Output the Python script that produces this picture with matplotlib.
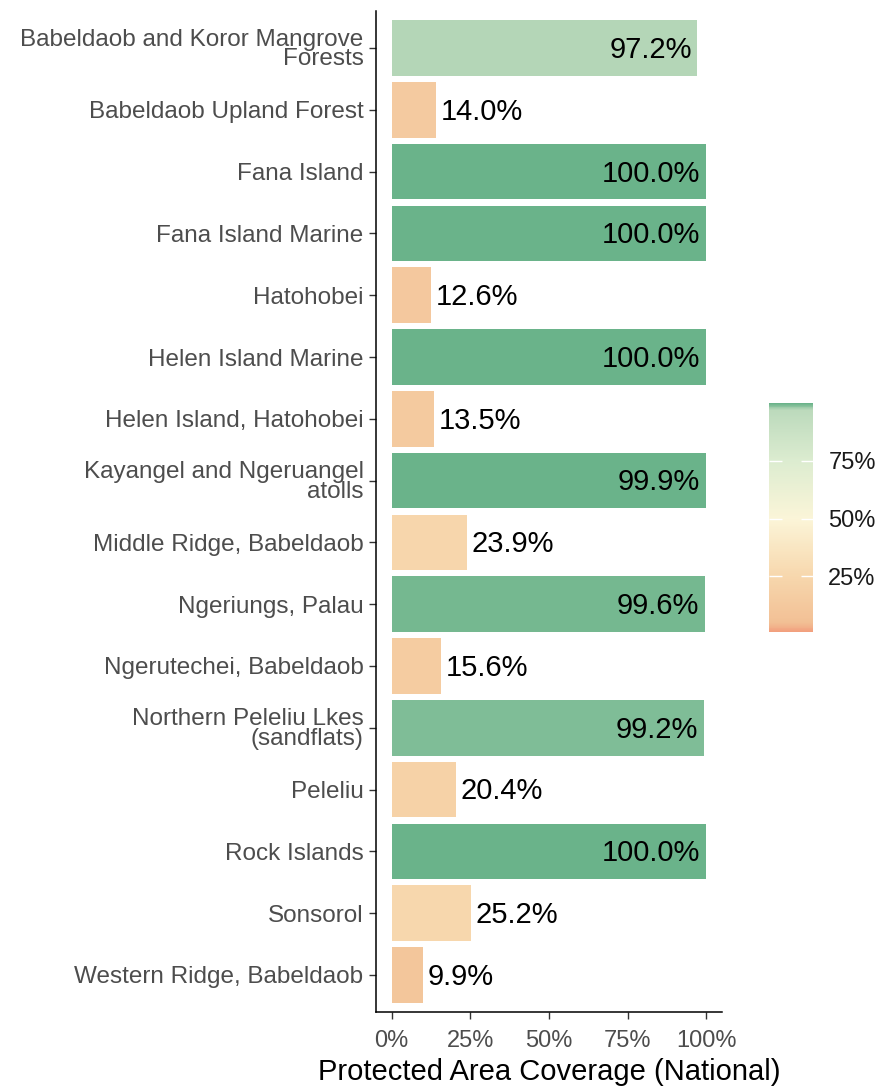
import matplotlib
matplotlib.use("Agg")
import matplotlib.pyplot as plt
import numpy as np
from matplotlib.colors import LinearSegmentedColormap, Normalize
from matplotlib.cm import ScalarMappable

plt.rcParams['font.family'] = ['Liberation Sans', 'DejaVu Sans']

# ================= DATA =================
sites = [
    "Babeldaob and Koror Mangrove\nForests",
    "Babeldaob Upland Forest",
    "Fana Island",
    "Fana Island Marine",
    "Hatohobei",
    "Helen Island Marine",
    "Helen Island, Hatohobei",
    "Kayangel and Ngeruangel\natolls",
    "Middle Ridge, Babeldaob",
    "Ngeriungs, Palau",
    "Ngerutechei, Babeldaob",
    "Northern Peleliu Lkes\n(sandflats)",
    "Peleliu",
    "Rock Islands",
    "Sonsorol",
    "Western Ridge, Babeldaob",
]
coverage = [97.2, 14.0, 100.0, 100.0, 12.6, 100.0, 13.5, 99.9,
            23.9, 99.6, 15.6, 99.2, 20.4, 100.0, 25.2, 9.9]

x_ticks = [0, 25, 50, 75, 100]
legend_ticks = [25, 50, 75]

# ================= COLOURS =================
vmin, vmax = 1.0, 100.0
stops = [(1, '#F2A07E'), (5, '#F2C095'), (25, '#F7D7AD'), (50, '#FBF5D8'),
         (75, '#DCECD0'), (97, '#BCDABC'), (100, '#6AB38A')]
cmap = LinearSegmentedColormap.from_list(
    "cov", [((v - vmin) / (vmax - vmin), c) for v, c in stops])
norm = Normalize(vmin=vmin, vmax=vmax)

# ================= PLOT =================
fig = plt.figure(figsize=(8.81, 10.88), dpi=100)
ax = fig.add_axes([376 / 881, 1 - 1012 / 1088, 346 / 881, 1001 / 1088])

ypos = np.arange(len(sites))
ax.barh(ypos, coverage, height=0.9, color=cmap(norm(np.array(coverage))))

for y, v in zip(ypos, coverage):
    if v > 50:
        ax.text(v - 1.8, y + 0.03, f"{v:.1f}%", ha='right', va='center',
                fontsize=21, color='black')
    else:
        ax.text(v + 1.5, y + 0.03, f"{v:.1f}%", ha='left', va='center',
                fontsize=21, color='black')

ax.set_yticks(ypos)
ax.set_yticklabels(sites, fontsize=17.5, color='#4D4D4D', linespacing=0.85)
ax.set_ylim(len(sites) - 0.4, -0.6)
ax.set_xlim(-5, 105)
ax.set_xticks(x_ticks)
ax.set_xticklabels([f"{t}%" for t in x_ticks], fontsize=17, color='#4D4D4D')
ax.set_xlabel("Protected Area Coverage (National)", fontsize=21, color='black',
              labelpad=4)

for s in ['top', 'right']:
    ax.spines[s].set_visible(False)
for s in ['left', 'bottom']:
    ax.spines[s].set_linewidth(1.1)
    ax.spines[s].set_color('black')
ax.tick_params(axis='both', length=5, width=1, color='#333333', pad=4)
ax.tick_params(axis='x', pad=8)

# ===== COLOUR BAR =====
cax = fig.add_axes([769 / 881, 1 - 632 / 1088, 44 / 881, 229 / 1088])
cb = fig.colorbar(ScalarMappable(norm=norm, cmap=cmap), cax=cax)
cb.outline.set_visible(False)
cb.set_ticks(legend_ticks)
cb.set_ticklabels([f"{t}%" for t in legend_ticks])
cax.tick_params(axis='y', left=True, right=True, labelleft=False, labelright=True,
                direction='in', color='white', length=9, width=1,
                labelsize=17, labelcolor='#1A1A1A', pad=11)

fig.savefig("out.png", dpi=100)
